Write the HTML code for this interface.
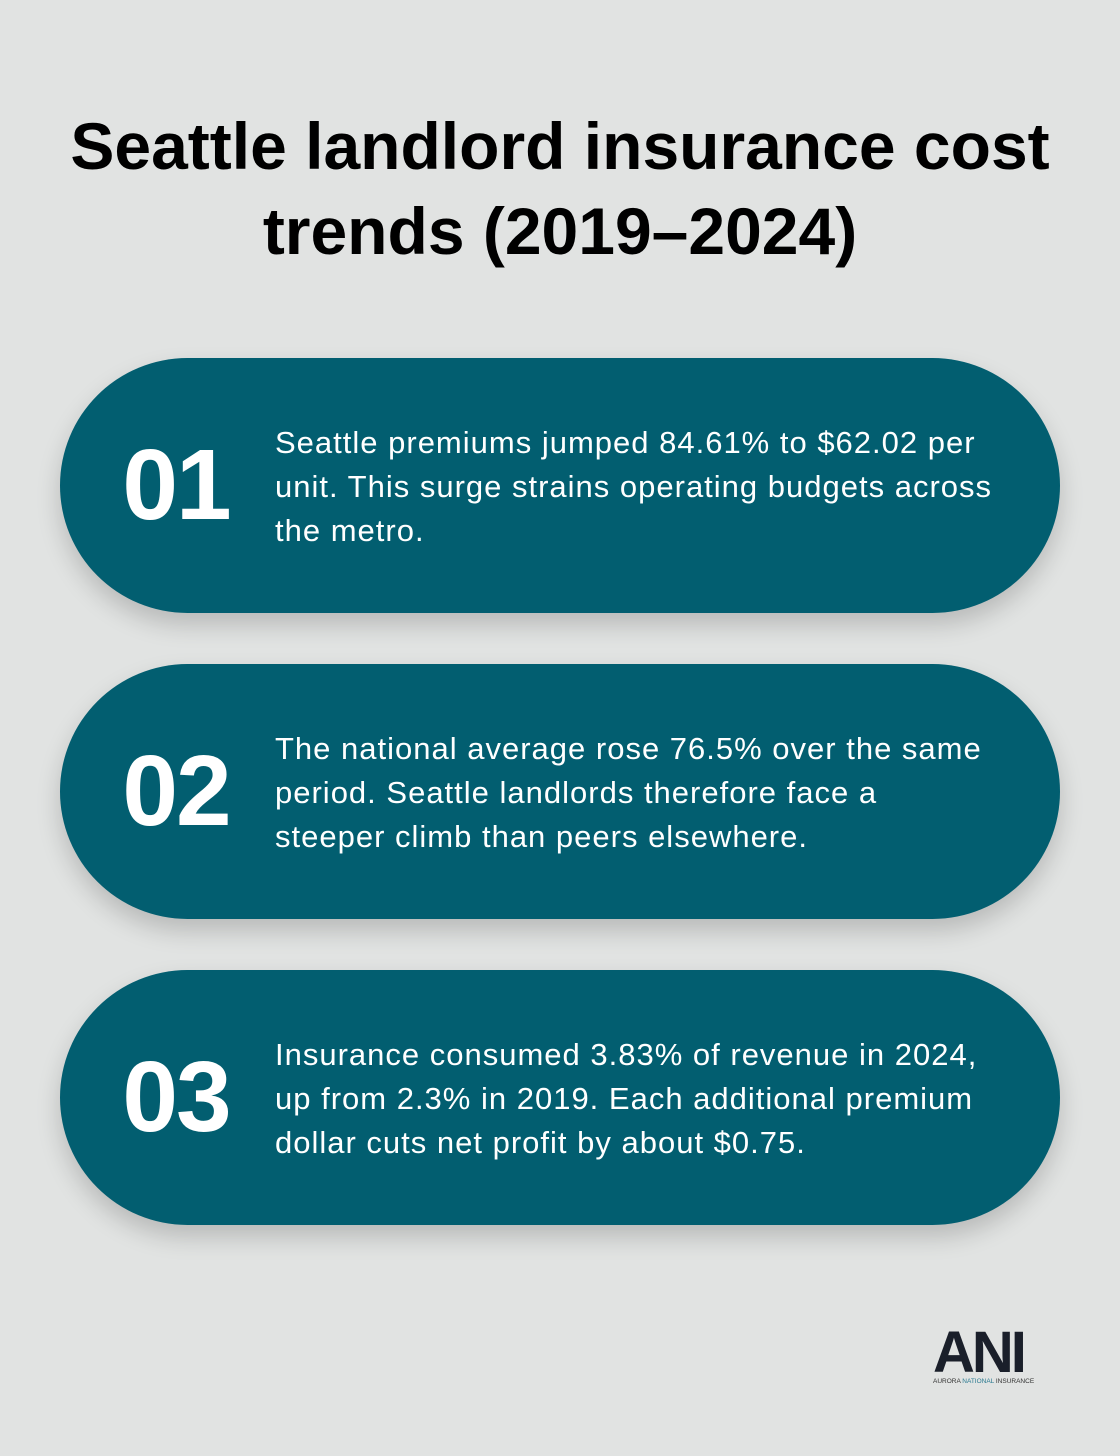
<!DOCTYPE html>
<html><head><meta charset="utf-8"><style>
body{margin:0;width:1120px;height:1456px;background:#e1e3e2;font-family:"Liberation Sans",sans-serif;position:relative;overflow:hidden}
h1{position:absolute;top:104px;left:0;width:1120px;margin:0;text-align:center;font-size:66px;line-height:85px;font-weight:bold;color:#000}
.card{position:absolute;left:60px;width:1000px;height:255px;border-radius:128px;background:#025e70;box-shadow:0 12px 24px rgba(0,0,0,0.18)}
.num{position:absolute;left:0;width:232px;text-align:center;top:0;line-height:255px;font-size:100px;font-weight:bold;color:#fff;letter-spacing:-2px}
.txt{position:absolute;left:215px;top:63px;width:780px;font-size:31px;line-height:44px;color:#fff;white-space:nowrap;letter-spacing:1px}
.logo{position:absolute;left:933px;top:1330px;width:112px}
</style></head><body>
<h1>Seattle landlord insurance cost<br>trends (2019–2024)</h1>
<div class="card" style="top:358px"><div class="num">01</div><div class="txt">Seattle premiums jumped 84.61% to $62.02 per<br>unit. This surge strains operating budgets across<br>the metro.</div></div>
<div class="card" style="top:664px"><div class="num">02</div><div class="txt">The national average rose 76.5% over the same<br>period. Seattle landlords therefore face a<br>steeper climb than peers elsewhere.</div></div>
<div class="card" style="top:970px"><div class="num">03</div><div class="txt">Insurance consumed 3.83% of revenue in 2024,<br>up from 2.3% in 2019. Each additional premium<br>dollar cuts net profit by about $0.75.</div></div>
<div class="logo"><div style="font-size:58px;font-weight:900;line-height:46px;color:#1a1f2a;letter-spacing:-3px">ANI</div><div style="font-size:6.5px;color:#333;margin-top:2px;white-space:nowrap">AURORA <span style="color:#2a7a90">NATIONAL</span> INSURANCE</div></div>
</body></html>
